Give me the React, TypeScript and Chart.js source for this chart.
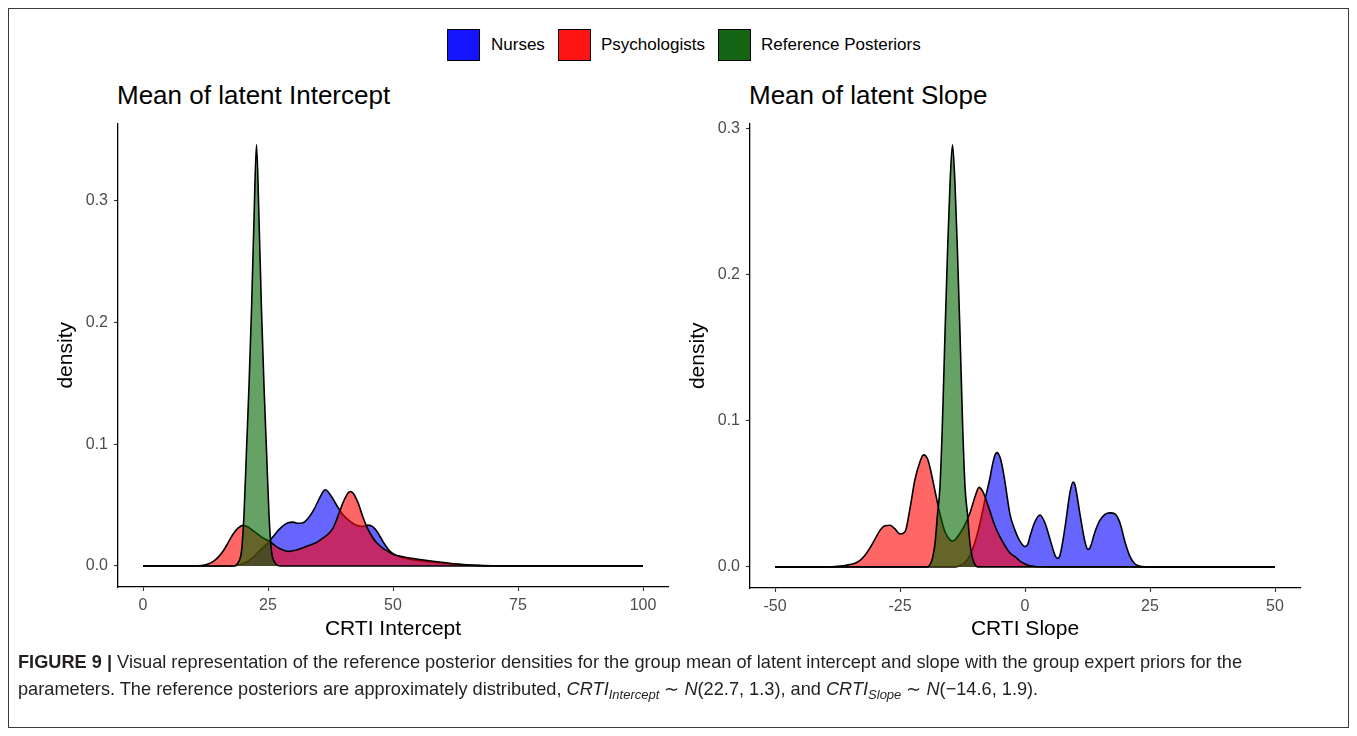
import React, { useEffect, useRef } from "react";
import { Chart, registerables } from "chart.js";

Chart.register(...registerables);

const FONT = "'Liberation Sans', Arial, Helvetica, sans-serif";

const groups = ["Nurses", "Psychologists", "Reference Posteriors"];
const fillColors = ["rgba(0,0,255,0.6)", "rgba(255,0,0,0.6)", "rgba(0,100,0,0.6)"];
const keyColors = ["#1414ff", "#ff1414", "#146414"];

// ---- Left panel: Mean of latent Intercept ----
const interceptNursesX = [0, 18, 19, 20, 21, 22, 23, 24, 25, 26, 27, 28, 29, 30, 31, 32, 33, 34, 35, 36, 36.5, 37, 38, 39, 40, 41, 42, 43, 44, 45, 46, 47, 48, 49, 50, 51, 52, 55, 58, 61, 64, 67, 70, 100];
const interceptNursesY = [0, 0, 0.0005, 0.002, 0.004, 0.007, 0.011, 0.015, 0.019, 0.024, 0.029, 0.033, 0.0355, 0.036, 0.035, 0.0355, 0.039, 0.045, 0.053, 0.061, 0.0626, 0.061, 0.055, 0.048, 0.042, 0.038, 0.035, 0.033, 0.0325, 0.0335, 0.032, 0.027, 0.02, 0.014, 0.01, 0.0082, 0.0068, 0.0045, 0.003, 0.0018, 0.001, 0.0004, 0.0001, 0];

const interceptPsychX = [0, 10, 12, 13, 14, 15, 16, 17, 18, 19, 20, 21, 22, 23, 24, 25, 26, 27, 28, 29, 30, 31, 32, 33, 34, 35, 36, 37, 38, 39, 40, 41, 41.5, 42, 43, 44, 45, 46, 47, 48, 49, 50, 52, 55, 58, 61, 64, 67, 70, 75, 100];
const interceptPsychY = [0, 0, 0.0005, 0.0015, 0.0035, 0.007, 0.012, 0.019, 0.026, 0.031, 0.0333, 0.032, 0.029, 0.026, 0.023, 0.021, 0.018, 0.015, 0.013, 0.012, 0.0125, 0.0135, 0.015, 0.0165, 0.018, 0.02, 0.023, 0.026, 0.031, 0.041, 0.052, 0.06, 0.061, 0.06, 0.052, 0.04, 0.03, 0.023, 0.018, 0.0145, 0.012, 0.0095, 0.0075, 0.0055, 0.0038, 0.0024, 0.0012, 0.0005, 0.0002, 0, 0];

const interceptRefX = [0, 18.0, 18.7, 19.2, 19.7, 20.2, 20.7, 21.2, 21.7, 22.2, 22.7, 23.2, 23.7, 24.2, 24.7, 25.2, 25.7, 26.2, 26.7, 27.4, 100];
const interceptRefY = [0, 0, 0.001, 0.004, 0.012, 0.042, 0.095, 0.148, 0.21, 0.285, 0.346, 0.285, 0.21, 0.148, 0.095, 0.042, 0.012, 0.004, 0.001, 0, 0];

const interceptTicksX = [0, 25, 50, 75, 100];
const interceptTicksY = [0, 0.1, 0.2, 0.3];

// ---- Right panel: Mean of latent Slope ----
const slopeNursesX = [-50, -14, -13, -12, -11, -10, -9, -8, -7, -6.5, -6, -5.6, -5, -4.5, -4, -3, -2, -1, 0, 0.5, 1, 2, 3, 4, 5, 6, 6.5, 7, 8, 9, 9.6, 10, 11, 12, 12.6, 13, 14, 15, 16, 17, 18, 19, 20, 21, 22, 23, 25, 50];
const slopeNursesY = [0, 0, 0.001, 0.003, 0.008, 0.017, 0.03, 0.046, 0.061, 0.07, 0.0765, 0.0782, 0.075, 0.068, 0.058, 0.036, 0.025, 0.0175, 0.014, 0.015, 0.021, 0.031, 0.0355, 0.03, 0.019, 0.008, 0.0058, 0.008, 0.027, 0.051, 0.058, 0.056, 0.036, 0.017, 0.012, 0.013, 0.024, 0.032, 0.036, 0.037, 0.0362, 0.03, 0.017, 0.007, 0.002, 0.0005, 0, 0];

const slopePsychX = [-50, -42, -38, -36, -34, -33, -32, -31, -30, -29, -28, -27, -26, -25, -24, -23, -22, -21, -20.3, -19.5, -19, -18, -17, -16, -15, -14.5, -14, -13, -12, -11, -10, -9.2, -8.5, -8, -7, -6, -5, -4, -3, -2, -1, 0, 1, 2, 3, 5, 50];
const slopePsychY = [0, 0, 0.0003, 0.001, 0.0025, 0.0045, 0.008, 0.013, 0.019, 0.025, 0.0282, 0.0285, 0.026, 0.0225, 0.024, 0.04, 0.06, 0.072, 0.0767, 0.074, 0.068, 0.052, 0.036, 0.024, 0.0185, 0.0177, 0.0185, 0.023, 0.029, 0.037, 0.048, 0.0544, 0.052, 0.048, 0.038, 0.028, 0.0205, 0.0145, 0.0095, 0.007, 0.004, 0.002, 0.0008, 0.0003, 0.0001, 0, 0];

const slopeRefX = [-50, -19.5, -19.0, -18.5, -18.0, -17.5, -17.0, -16.5, -16.0, -15.5, -15.0, -14.5, -14.0, -13.5, -13.0, -12.5, -12.0, -11.5, -11.0, -10.5, -10.0, -9.5, 50];
const slopeRefY = [0, 0, 0.0015, 0.006, 0.016, 0.036, 0.055, 0.1, 0.16, 0.215, 0.262, 0.289, 0.262, 0.215, 0.16, 0.1, 0.055, 0.036, 0.016, 0.006, 0.0015, 0, 0];

const slopeTicksX = [-50, -25, 0, 25, 50];
const slopeTicksY = [0, 0.1, 0.2, 0.3];

type Series = { x: number[]; y: number[] };

type PanelProps = {
  left: number;
  top: number;
  width: number;
  height: number;
  padTop: number;
  padRight: number;
  yAxisWidth: number;
  xAxisHeight: number;
  yTitlePad: number;
  series: Series[];
  xTicks: number[];
  yTicks: number[];
  xTitle: string;
};

function Panel(p: PanelProps) {
  const ref = useRef<HTMLCanvasElement | null>(null);
  useEffect(() => {
    if (!ref.current) return;
    const allX = p.series.flatMap((s) => s.x);
    const allY = p.series.flatMap((s) => s.y);
    const xLo = Math.min(...allX);
    const xHi = Math.max(...allX);
    const yHi = Math.max(...allY);
    const xPad = (xHi - xLo) * 0.05;
    const datasets = p.series.map((s, i) => ({
      label: groups[i],
      data: s.x.map((x, j) => ({ x, y: s.y[j] })),
      borderColor: "#000000",
      borderWidth: 1.6,
      backgroundColor: fillColors[i],
      fill: "origin",
      pointRadius: 0,
      pointHoverRadius: 0,
      cubicInterpolationMode: "monotone" as const,
      tension: 0.4,
      order: 2 - i,
    }));
    const chart = new Chart(ref.current, {
      type: "line",
      data: { datasets },
      options: {
        animation: false,
        responsive: false,
        devicePixelRatio: 1,
        layout: { padding: { top: p.padTop, right: p.padRight, left: 0, bottom: 0 } },
        plugins: { legend: { display: false }, tooltip: { enabled: false }, title: { display: false } },
        scales: {
          x: {
            type: "linear",
            min: xLo - xPad,
            max: xHi + xPad,
            afterBuildTicks: (scale: any) => {
              scale.ticks = p.xTicks.map((v) => ({ value: v }));
            },
            afterFit: (scale: any) => {
              scale.height = p.xAxisHeight;
            },
            ticks: {
              color: "#4d4d4d",
              font: { family: FONT, size: 16 },
              padding: 5,
              maxRotation: 0,
              autoSkip: false,
              callback: (v: any) => String(v),
            },
            grid: { display: true, drawOnChartArea: false, drawTicks: true, tickLength: 4, tickColor: "#333333", tickWidth: 1.1 },
            border: { display: true, color: "#000000", width: 1.3 },
            title: {
              display: true,
              text: p.xTitle,
              color: "#000000",
              font: { family: FONT, size: 21, lineHeight: 1.2 },
              padding: { top: 0, bottom: 8 },
            },
          },
          y: {
            type: "linear",
            min: -yHi * 0.05,
            max: yHi * 1.05,
            afterBuildTicks: (scale: any) => {
              scale.ticks = p.yTicks.map((v) => ({ value: v }));
            },
            afterFit: (scale: any) => {
              scale.width = p.yAxisWidth;
            },
            ticks: {
              color: "#4d4d4d",
              font: { family: FONT, size: 16 },
              padding: 6,
              autoSkip: false,
              callback: (v: any) => Number(v).toFixed(1),
            },
            grid: { display: true, drawOnChartArea: false, drawTicks: true, tickLength: 4, tickColor: "#333333", tickWidth: 1.1 },
            border: { display: true, color: "#000000", width: 1.3 },
            title: {
              display: true,
              text: "density",
              color: "#000000",
              font: { family: FONT, size: 21, lineHeight: 1.2 },
              padding: { top: p.yTitlePad, bottom: 0 },
            },
          },
        },
      } as any,
    });
    return () => chart.destroy();
  }, []);
  return (
    <canvas
      ref={ref}
      width={p.width}
      height={p.height}
      style={{ position: "absolute", left: p.left, top: p.top, width: p.width, height: p.height }}
    />
  );
}

const legendBoxLefts = [447, 558, 718];
const legendTextLefts = [491, 601, 761];

export default function App() {
  const text: React.CSSProperties = { position: "absolute", fontFamily: FONT, whiteSpace: "nowrap", color: "#000" };
  const sub: React.CSSProperties = { fontSize: 13, position: "relative", top: 4 };
  return (
    <div style={{ position: "relative", width: 1357, height: 736, margin: -8, background: "#fff" }}>
      <div
        style={{
          position: "absolute",
          left: 8,
          top: 8,
          width: 1341,
          height: 720,
          border: "1px solid #3a3a3a",
          boxSizing: "border-box",
        }}
      />
      {groups.map((g, i) => (
        <React.Fragment key={g}>
          <div
            style={{
              position: "absolute",
              left: legendBoxLefts[i],
              top: 29,
              width: 33,
              height: 32,
              background: keyColors[i],
              border: "1.5px solid #000",
              boxSizing: "border-box",
            }}
          />
          <div style={{ ...text, left: legendTextLefts[i], top: 35, fontSize: 17, lineHeight: "20px" }}>{g}</div>
        </React.Fragment>
      ))}
      <div style={{ ...text, left: 117, top: 79, fontSize: 26, lineHeight: "32px" }}>Mean of latent Intercept</div>
      <div style={{ ...text, left: 749, top: 79, fontSize: 26, lineHeight: "32px" }}>Mean of latent Slope</div>
      <Panel
        left={30}
        top={108}
        width={645}
        height={542}
        padTop={12}
        padRight={7}
        yAxisWidth={88}
        xAxisHeight={63}
        yTitlePad={24}
        series={[
          { x: interceptNursesX, y: interceptNursesY },
          { x: interceptPsychX, y: interceptPsychY },
          { x: interceptRefX, y: interceptRefY },
        ]}
        xTicks={interceptTicksX}
        yTicks={interceptTicksY}
        xTitle="CRTI Intercept"
      />
      <Panel
        left={676}
        top={108}
        width={640}
        height={542}
        padTop={11}
        padRight={16}
        yAxisWidth={74}
        xAxisHeight={62}
        yTitlePad={10}
        series={[
          { x: slopeNursesX, y: slopeNursesY },
          { x: slopePsychX, y: slopePsychY },
          { x: slopeRefX, y: slopeRefY },
        ]}
        xTicks={slopeTicksX}
        yTicks={slopeTicksY}
        xTitle="CRTI Slope"
      />
      <div style={{ ...text, left: 18, top: 649, fontSize: 18.2, lineHeight: "27px", color: "#231f20" }}>
        <b>FIGURE 9 |</b> Visual representation of the reference posterior densities for the group mean of latent
        intercept and slope with the group expert priors for the
        <br />
        parameters. The reference posteriors are approximately distributed,{" "}
        <i>CRTI</i>
        <i style={sub}>Intercept</i> ∼ <i>N</i>(22.7, 1.3), and{" "}
        <i>CRTI</i>
        <i style={sub}>Slope</i> ∼ <i>N</i>(−14.6, 1.9).
      </div>
    </div>
  );
}
